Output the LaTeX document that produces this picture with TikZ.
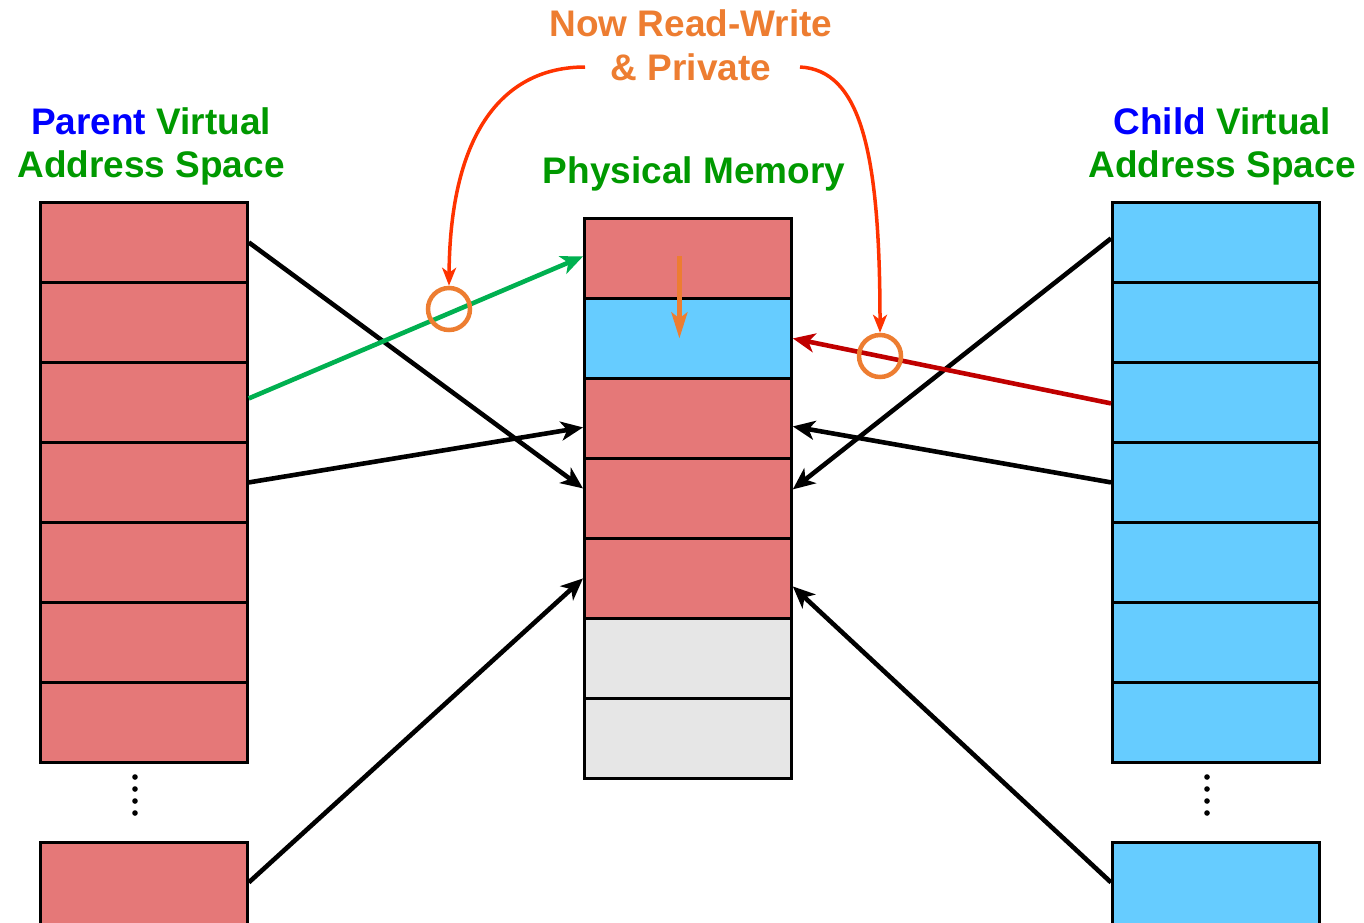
\documentclass[tikz,border=0pt]{standalone}
\usepackage{fontspec}
\setmainfont{Liberation Sans}
\usetikzlibrary{arrows.meta}
\definecolor{cellred}{HTML}{E57878}
\definecolor{cellblue}{HTML}{66CCFF}
\definecolor{cellgray}{HTML}{E6E6E6}
\definecolor{lblblue}{HTML}{0000FF}
\definecolor{lblgreen}{HTML}{009900}
\definecolor{lblorange}{HTML}{ED7D31}
\definecolor{arrgreen}{HTML}{00B050}
\definecolor{arrred}{HTML}{C00000}
\definecolor{curvered}{HTML}{FF3300}
\begin{document}
\begin{tikzpicture}[x=1pt,y=-1pt,
  cell/.style={rectangle,draw=black,line width=2.8pt,minimum width=207pt,minimum height=80pt,inner sep=0pt,anchor=north west},
  redcell/.style={cell,fill=cellred},
  bluecell/.style={cell,fill=cellblue},
  graycell/.style={cell,fill=cellgray},
  lbl/.style={font=\fontsize{37}{44}\selectfont\bfseries,anchor=base,inner sep=0pt},
  map/.style={line width=4.6pt,-{Stealth[length=22pt,width=19pt,inset=6pt]}},
  curve/.style={line width=3.5pt,color=curvered,-{Stealth[length=18pt,width=14pt,inset=5pt]}},
  ring/.style={circle,draw=lblorange,line width=4.5pt,minimum size=42pt,inner sep=0pt},
  dot/.style={fill=black}
]
\clip (0,0) rectangle (1364,922);
% left column
\foreach \i in {1,...,7} {\node[redcell] (L\i) at (39,{201+80*(\i-1)}) {};}
\node[redcell,minimum height=100pt] (L8) at (39,841) {};
% right column
\foreach \i in {1,...,7} {\node[bluecell] (R\i) at (1111,{201+80*(\i-1)}) {};}
\node[bluecell,minimum height=100pt] (R8) at (1111,841) {};
% middle column
\node[redcell]  (M1) at (583,217) {};
\node[bluecell] (M2) at (583,297) {};
\node[redcell]  (M3) at (583,377) {};
\node[redcell]  (M4) at (583,457) {};
\node[redcell]  (M5) at (583,537) {};
\node[graycell] (M6) at (583,617) {};
\node[graycell] (M7) at (583,697) {};
% dots
\foreach \y in {777,789,801,813} {\fill[dot] (135,\y) circle (2.8); \fill[dot] (1207,\y) circle (2.8);}
% labels
\node[lbl] (PL1) at (151,134) {\textcolor{lblblue}{Parent} \textcolor{lblgreen}{Virtual}};
\node[lbl,text=lblgreen] (PL2) at (151,177) {Address Space};
\node[lbl] (CL1) at (1222,134) {\textcolor{lblblue}{Child} \textcolor{lblgreen}{Virtual}};
\node[lbl,text=lblgreen] (CL2) at (1222,177) {Address Space};
\node[lbl,text=lblgreen] (PM) at (694,183) {Physical Memory};
\node[lbl,text=lblorange] (T1) at (691,36) {Now Read-Write};
\node[lbl,text=lblorange] (T2) at (691,80) {\& Private};
% black mappings
\draw[map] (L1.east) -- ([yshift=10pt]M4.west);
\draw[map] (L4.east) -- ([yshift=-9pt]M3.west);
\draw[map] ([yshift=10pt]L8.east) -- (M5.west);
\draw[map] ([yshift=4pt]R1.west) -- ([yshift=9pt]M4.east);
\draw[map] (R4.west) -- ([yshift=-8pt]M3.east);
\draw[map] ([yshift=10pt]R8.west) -- ([yshift=-8pt]M5.east);
% coloured mappings
\draw[map,color=arrgreen] ([yshift=4pt]L3.east) -- ([yshift=2pt]M1.west);
\draw[map,color=arrred] ([yshift=-1pt]R3.west) -- (M2.east);
% copy arrow
\draw[line width=4.5pt,color=lblorange,-{Stealth[length=26pt,width=16pt,inset=6pt]}] ([xshift=-8.5pt,yshift=2pt]M1.center) -- ([xshift=-8.5pt]M2.center);
% rings
\node[ring] (C1) at (449,309) {};
\node[ring] (C2) at (880,356) {};
% curves
\coordinate (S1) at (585,67);
\coordinate (S2) at (800,67);
\draw[curve] (S1) .. controls (505,67) and (450,130) .. (C1.north);
\draw[curve] (S2) .. controls (860,70) and (880,150) .. (C2.north);
\end{tikzpicture}
\end{document}
